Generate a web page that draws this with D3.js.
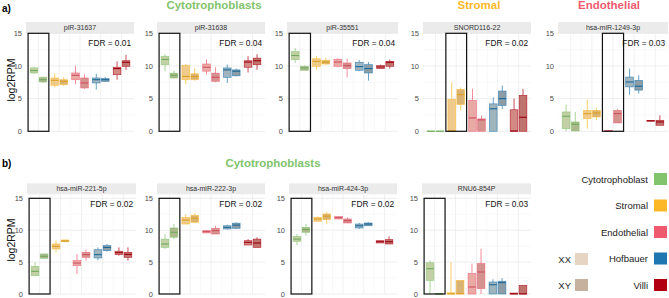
<!DOCTYPE html>
<html>
<head>
<meta charset="utf-8">
<script src="https://d3js.org/d3.v7.min.js"></script>
<style>
  body { margin: 0; background: #fff; }
  svg { display: block; font-family: "Liberation Sans", Arial, sans-serif; }
</style>
</head>
<body>
<svg id="chart" width="669" height="298"></svg>
<script>
// categories
const cellTypes = ["Cytotrophoblast", "Stromal", "Endothelial", "Hofbauer", "Villi"];
const sexes = ["XX", "XY"];
const cellColors = ["#82C46C", "#FDB827", "#EF5A6F", "#1F77B1", "#B00012"];
const sexColors = ["#E6D5C3", "#C6B19E"];
const yTicks = [0, 5, 10, 15];

// box stats per panel: [lower whisker, q1, median, q3, upper whisker]
// order: Cyto XX, Cyto XY, Stromal XX, Stromal XY, Endo XX, Endo XY, Hof XX, Hof XY, Villi XX, Villi XY
const piR31637 = [
  [8.8, 8.93, 9.3, 9.7, 9.9], [7.4, 7.55, 7.9, 8.27, 8.4],
  [6.7, 7.04, 7.8, 8.16, 8.9], [6.9, 7.14, 7.65, 7.9, 8.3],
  [7.2, 7.9, 8.57, 8.93, 10.05], [6.5, 6.63, 7.4, 8.16, 8.7],
  [6.4, 7.4, 7.9, 8.16, 8.8], [7.55, 7.65, 7.9, 8.06, 8.3],
  [7.9, 8.67, 9.6, 9.8, 10.7], [9.4, 9.95, 10.56, 10.8, 11.7]
];
const piR31638 = [
  [9.2, 10.2, 11.0, 11.48, 11.8], [8.06, 8.16, 8.57, 8.9, 9.3],
  [7.2, 7.9, 8.4, 10.1, 10.3], [7.75, 7.9, 8.4, 8.8, 9.7],
  [8.7, 9.2, 9.8, 10.3, 11.0], [7.5, 7.65, 8.26, 8.9, 9.8],
  [7.4, 8.26, 9.4, 9.7, 10.2], [8.4, 8.5, 9.2, 9.4, 9.6],
  [9.0, 9.8, 10.6, 10.8, 11.5], [9.4, 10.2, 10.8, 11.2, 11.8]
];
const piR35551 = [
  [10.46, 10.97, 11.6, 12.2, 12.75], [9.3, 9.34, 9.7, 9.95, 10.1],
  [9.4, 9.95, 10.7, 11.1, 11.5], [10.2, 10.3, 10.6, 10.87, 11.3],
  [9.8, 9.95, 10.6, 11.0, 11.2], [8.26, 9.6, 10.05, 10.46, 11.1],
  [9.2, 9.34, 9.9, 10.56, 10.9], [7.75, 8.93, 9.6, 10.2, 10.6],
  [9.6, 9.6, 9.85, 10.05, 10.2], [9.6, 9.95, 10.56, 10.7, 10.97]
];
const snord116 = [
  [0, 0, 0, 0.05, 0.05], [0, 0, 0, 0.05, 0.05],
  [0, 0, 0.05, 4.9, 7.5], [3.2, 4.1, 5.6, 6.4, 6.7],
  [0, 0, 2.05, 4.7, 6.5], [0, 0, 1.75, 1.9, 2.4],
  [0, 0, 3.45, 4.2, 5.2], [3.4, 3.95, 5.0, 6.16, 7.0],
  [0, 0, 0.05, 3.3, 5.0], [0, 0, 2.15, 5.5, 6.5]
];
const mir1249 = [
  [0, 0.4, 2.3, 2.96, 4.1], [0, 0.05, 1.07, 1.43, 2.96],
  [0.4, 1.94, 2.7, 3.2, 4.85], [1.7, 2.2, 2.8, 3.2, 3.6],
  [0, 0, 0.05, 0.1, 0.1], [1.28, 1.28, 2.7, 3.2, 3.47],
  [5.6, 6.8, 7.55, 8.3, 9.6], [5.77, 6.3, 6.9, 7.8, 8.57],
  [1.55, 1.55, 1.6, 1.65, 1.65], [0.92, 0.92, 1.43, 1.68, 2.45]
];
const mir221 = [
  [2.77, 2.87, 3.55, 4.34, 4.97], [5.5, 5.6, 5.9, 6.27, 6.38],
  [6.53, 7.06, 7.47, 7.84, 8.4], [8.1, 8.2, 8.3, 8.47, 8.5],
  [3.1, 4.44, 4.86, 5.23, 6.27], [5.23, 5.75, 6.17, 6.53, 6.95],
  [5.3, 5.65, 6.17, 6.95, 7.3], [6.64, 6.8, 7.3, 7.58, 7.84],
  [6.0, 6.17, 6.48, 6.7, 7.3], [5.23, 5.75, 6.2, 6.53, 7.3]
];
const mir222 = [
  [7.06, 7.3, 7.84, 8.6, 9.4], [8.6, 8.9, 9.67, 10.35, 10.97],
  [10.97, 10.97, 11.6, 12.0, 12.5], [11.1, 11.24, 11.87, 12.3, 12.7],
  [9.57, 9.57, 9.78, 9.93, 10.0], [9.4, 9.4, 9.93, 10.3, 10.7],
  [10.1, 10.2, 10.45, 10.7, 10.87], [10.2, 10.3, 10.8, 11.1, 11.24],
  [7.68, 7.68, 8.1, 8.36, 8.6], [7.3, 7.3, 8.0, 8.6, 8.9]
];
const mir424 = [
  [7.68, 8.26, 8.6, 9.04, 9.4], [9.15, 9.67, 10.1, 10.45, 10.97],
  [11.4, 11.4, 11.76, 12.0, 12.2], [10.97, 11.66, 12.2, 12.55, 12.9],
  [11.76, 11.76, 11.97, 12.13, 12.2], [11.13, 11.13, 11.5, 11.76, 12.0],
  [10.2, 10.35, 10.7, 10.97, 11.13], [10.7, 10.7, 10.97, 11.13, 11.24],
  [8.0, 8.0, 8.2, 8.36, 8.36], [7.84, 7.84, 8.2, 8.52, 9.04]
];
const rnu6 = [
  [0, 2.14, 3.97, 4.9, 5.28], [0, 0, 0.02, 0.08, 0.08],
  [0, 0, 0.02, 0.2, 5.0], [0, 0, 0.05, 2.14, 2.14],
  [0, 0, 1.1, 3.2, 4.76], [0, 0.84, 3.45, 4.76, 7.1],
  [0, 0, 1.46, 1.88, 2.3], [0, 0, 1.78, 2.0, 2.5],
  [0, 0, 0.02, 0.15, 0.15], [0, 0, 0.02, 1.36, 1.36]
];

const panelNames = ["piR-31637", "piR-31638", "piR-35551", "SNORD116-22", "hsa-miR-1249-3p",
                    "hsa-miR-221-5p", "hsa-miR-222-3p", "hsa-miR-424-3p", "RNU6-854P"];
const panelStats = [piR31637, piR31638, piR35551, snord116, mir1249, mir221, mir222, mir424, rnu6];
const panelFdr = ["0.01", "0.04", "0.04", "0.02", "0.03", "0.02", "0.02", "0.02", "0.03"];
const panelHighlight = [0, 0, 0, 1, 2, 0, 0, 0, 0];

// layout
const panelRow = [0, 0, 0, 0, 0, 1, 1, 1, 1];
const panelX = [[26, 134], [157, 265], [287, 398], [423, 531], [558, 668],
                [27, 136], [157, 265], [289, 397], [422, 531]];
const rows = [
  { stripTop: 22, plotTop: 33.3, plotBottom: 131.3, yMax: 15 },
  { stripTop: 183.3, plotTop: 194.3, plotBottom: 294, yMax: 15.63 }
];

const svg = d3.select("#chart");

// row labels and titles
svg.append("text").attr("x", 2).attr("y", 12).attr("font-size", 10).attr("font-weight", "bold").text("a)");
svg.append("text").attr("x", 2).attr("y", 167).attr("font-size", 10).attr("font-weight", "bold").text("b)");
const titles = [
  { t: "Cytotrophoblasts", x: 214, y: 9, c: cellColors[0] },
  { t: "Stromal", x: 479, y: 9, c: cellColors[1] },
  { t: "Endothelial", x: 609, y: 9, c: cellColors[2] },
  { t: "Cytotrophoblasts", x: 273, y: 167, c: cellColors[0] }
];
svg.selectAll("text.title").data(titles).join("text")
  .attr("class", "title")
  .attr("x", d => d.x).attr("y", d => d.y)
  .attr("text-anchor", "middle").attr("font-size", 11.5).attr("font-weight", "bold")
  .attr("fill", d => d.c).text(d => d.t);

panelNames.forEach((name, p) => {
  const row = rows[panelRow[p]];
  const [x0, x1] = panelX[p];
  const g = svg.append("g");

  const x = d3.scaleBand().domain(cellTypes).range([x0, x1]).paddingInner(0).paddingOuter(0.1);
  const step = x.step();
  const xs = d3.scaleBand().domain(sexes).range([-0.4 * step, 0.4 * step]).paddingInner(0.15);
  const y = d3.scaleLinear().domain([0, row.yMax]).range([row.plotBottom, row.plotTop]);

  // strip
  g.append("rect").attr("x", x0).attr("y", row.stripTop)
    .attr("width", x1 - x0).attr("height", row.plotTop - row.stripTop).attr("fill", "#EBEBEB");
  g.append("text").attr("x", (x0 + x1) / 2).attr("y", (row.stripTop + row.plotTop) / 2 + 2.5)
    .attr("text-anchor", "middle").attr("font-size", 7).attr("fill", "#333").text(name);

  // grid
  const minorY = [2.5, 7.5, 12.5];
  g.selectAll("line.ymin").data(minorY).join("line")
    .attr("x1", x0).attr("x2", x1).attr("y1", d => y(d)).attr("y2", d => y(d))
    .attr("stroke", "#F2F2F2").attr("stroke-width", 0.5);
  g.selectAll("line.ymaj").data(yTicks).join("line")
    .attr("x1", x0).attr("x2", x1).attr("y1", d => y(d)).attr("y2", d => y(d))
    .attr("stroke", "#E6E6E6").attr("stroke-width", 0.7);
  g.selectAll("line.xmaj").data(cellTypes).join("line")
    .attr("x1", d => x(d) + step / 2).attr("x2", d => x(d) + step / 2)
    .attr("y1", row.plotTop).attr("y2", row.plotBottom)
    .attr("stroke", "#E8E8E8").attr("stroke-width", 0.6);
  g.selectAll("line.xmin").data(cellTypes.slice(1)).join("line")
    .attr("x1", d => x(d)).attr("x2", d => x(d))
    .attr("y1", row.plotTop).attr("y2", row.plotBottom)
    .attr("stroke", "#F2F2F2").attr("stroke-width", 0.5);

  // y axis tick labels
  g.selectAll("text.tick").data(yTicks).join("text")
    .attr("x", x0 - 4).attr("y", d => y(d) + 2.6)
    .attr("text-anchor", "end").attr("font-size", 7.5).attr("fill", "#4D4D4D").text(d => d);

  // FDR label
  g.append("text").attr("x", x1 - 3).attr("y", row.plotTop + 13)
    .attr("text-anchor", "end").attr("font-size", 8.3).attr("fill", "#111")
    .text("FDR = " + panelFdr[p]);

  // boxes
  const boxes = [];
  cellTypes.forEach((ct, ci) => sexes.forEach((sx, si) => {
    boxes.push({ ci, si, s: panelStats[p][ci * 2 + si],
      cx: x(ct) + step / 2 + xs(sx) + xs.bandwidth() / 2 });
  }));
  const bw = xs.bandwidth();
  const bg = g.selectAll("g.box").data(boxes).join("g");
  bg.append("line")
    .attr("x1", d => d.cx).attr("x2", d => d.cx)
    .attr("y1", d => y(d.s[4])).attr("y2", d => y(d.s[3]))
    .attr("stroke", d => cellColors[d.ci]).attr("stroke-width", 0.7);
  bg.append("line")
    .attr("x1", d => d.cx).attr("x2", d => d.cx)
    .attr("y1", d => y(d.s[1])).attr("y2", d => y(d.s[0]))
    .attr("stroke", d => cellColors[d.ci]).attr("stroke-width", 0.7);
  bg.append("rect")
    .attr("x", d => d.cx - bw / 2).attr("width", bw)
    .attr("y", d => y(d.s[3])).attr("height", d => Math.max(0.01, y(d.s[1]) - y(d.s[3])))
    .attr("fill", d => d3.interpolateRgb(sexColors[d.si], cellColors[d.ci])(0.35))
    .attr("stroke", d => cellColors[d.ci]).attr("stroke-opacity", 0.75).attr("stroke-width", 0.7);
  bg.append("line")
    .attr("x1", d => d.cx - bw / 2).attr("x2", d => d.cx + bw / 2)
    .attr("y1", d => y(d.s[2])).attr("y2", d => y(d.s[2]))
    .attr("stroke", d => d3.color(cellColors[d.ci]).darker(0.4)).attr("stroke-width", 1.1);

  // highlight rectangle
  const h = cellTypes[panelHighlight[p]];
  const rx0 = Math.max(x0 + 1, x(h));
  const rx1 = Math.min(x1 - 1, x(h) + step);
  g.append("rect").attr("x", rx0).attr("y", y(15))
    .attr("width", rx1 - rx0).attr("height", y(0) - y(15))
    .attr("fill", "none").attr("stroke", "#111").attr("stroke-width", 1.2);
});

// y axis titles
[rows[0], rows[1]].forEach((row, i) => {
  const cy = i === 0 ? 80 : 240;
  svg.append("text").attr("transform", `translate(15,${cy}) rotate(-90)`)
    .attr("text-anchor", "middle").attr("font-size", 10.5).attr("fill", "#111").text("log2RPM");
});

// legend
const legY = d3.scalePoint().domain(cellTypes).range([179, 285]);
const leg = svg.selectAll("g.leg").data(cellTypes).join("g")
  .attr("transform", d => `translate(0,${legY(d)})`);
leg.append("rect").attr("x", 654).attr("y", -6).attr("width", 13).attr("height", 12)
  .attr("fill", (d, i) => cellColors[i]);
leg.append("text").attr("x", 648).attr("y", 3.5).attr("text-anchor", "end")
  .attr("font-size", 9.5).attr("fill", "#222").text(d => d);
const sexY = d3.scalePoint().domain(sexes).range([259, 285]);
const sleg = svg.selectAll("g.sleg").data(sexes).join("g")
  .attr("transform", d => `translate(0,${sexY(d)})`);
sleg.append("rect").attr("x", 575).attr("y", -6).attr("width", 13).attr("height", 12)
  .attr("fill", (d, i) => sexColors[i]);
sleg.append("text").attr("x", 571).attr("y", 3.5).attr("text-anchor", "end")
  .attr("font-size", 9.5).attr("fill", "#222").text(d => d);
</script>
</body>
</html>
